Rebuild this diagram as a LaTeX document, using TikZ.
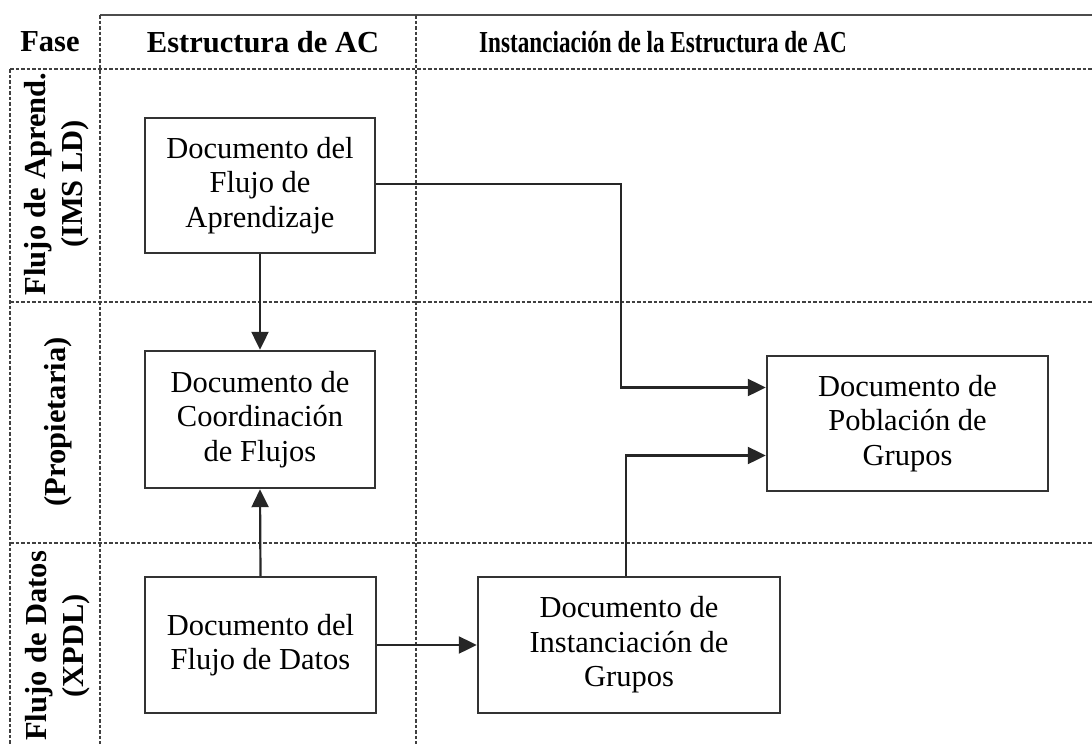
\documentclass[tikz,border=0pt]{standalone}
\usepackage{fontspec}
\setmainfont{Liberation Serif}
\usetikzlibrary{arrows.meta,calc}
\begin{document}
\begin{tikzpicture}[x=1pt,y=-1pt,
  grid/.style={line width=1.6pt,dash pattern=on 3.5pt off 2pt,black!75},
  doc/.style={draw=black!80,line width=2.4pt,align=center,inner sep=0pt,font=\fontsize{30.5}{34.5}\selectfont},
  hdr/.style={font=\fontsize{30.5}{37}\selectfont\bfseries,align=center,inner sep=0pt},
  arr/.style={draw=black!85,line width=2.2pt,-{Triangle[length=18pt,width=17pt]}}]
\useasboundingbox (0,0) rectangle (1092,744);
% grid
\draw[line width=2.4pt,black!70] (100,15) -- (1092,15);
\draw[grid] (10,69) -- (1092,69);
\draw[grid] (10,302) -- (1092,302);
\draw[grid] (10,543) -- (1092,543);
\draw[grid] (10,69) -- (10,744);
\draw[grid] (100,15) -- (100,744);
\draw[grid] (416,15) -- (416,744);
% headers
\node[hdr] (hfase) at (50,42) {Fase};
\node[hdr] (hest) at (263,42) {Estructura de AC};
\node[hdr] (hinst) at (663,42) {\scalebox{0.76}[1]{Instanciación de la Estructura de AC}};
\node[hdr,rotate=90] (r1) at (57,184) {Flujo de Aprend.\\(IMS LD)};
\node[hdr,rotate=90] (r2) at (58,422) {(Propietaria)};
\node[hdr,rotate=90] (r3) at (58,646) {Flujo de Datos\\(XPDL)};
% boxes
\node[doc,minimum width=230pt,minimum height=135pt] (b1) at (260,185.5) {Documento del\\Flujo de\\Aprendizaje};
\node[doc,minimum width=230pt,minimum height=137pt] (b2) at (260,419.5) {Documento de\\Coordinación\\de Flujos};
\node[doc,minimum width=231pt,minimum height=136pt] (b3) at (260.5,645) {Documento del\\Flujo de Datos};
\node[doc,minimum width=302pt,minimum height=136pt] (b4) at (629,645) {Documento de\\Instanciación de\\Grupos};
\node[doc,minimum width=281pt,minimum height=135pt] (b5) at (907.5,423.5) {Documento de\\Población de\\Grupos};
% connectors
\draw[arr] (b1.south) -- (b2.north);
\draw[arr] (b3.north) -- (b2.south);
\draw[arr] (b3.east) -- (b4.west);
\draw[arr] ([yshift=1.5pt]b1.east) -- ++(245,0) |- ([yshift=36pt]b5.west);
\draw[arr] ([xshift=-3pt]b4.north) |- ([yshift=-32pt]b5.west);
\end{tikzpicture}
\end{document}
